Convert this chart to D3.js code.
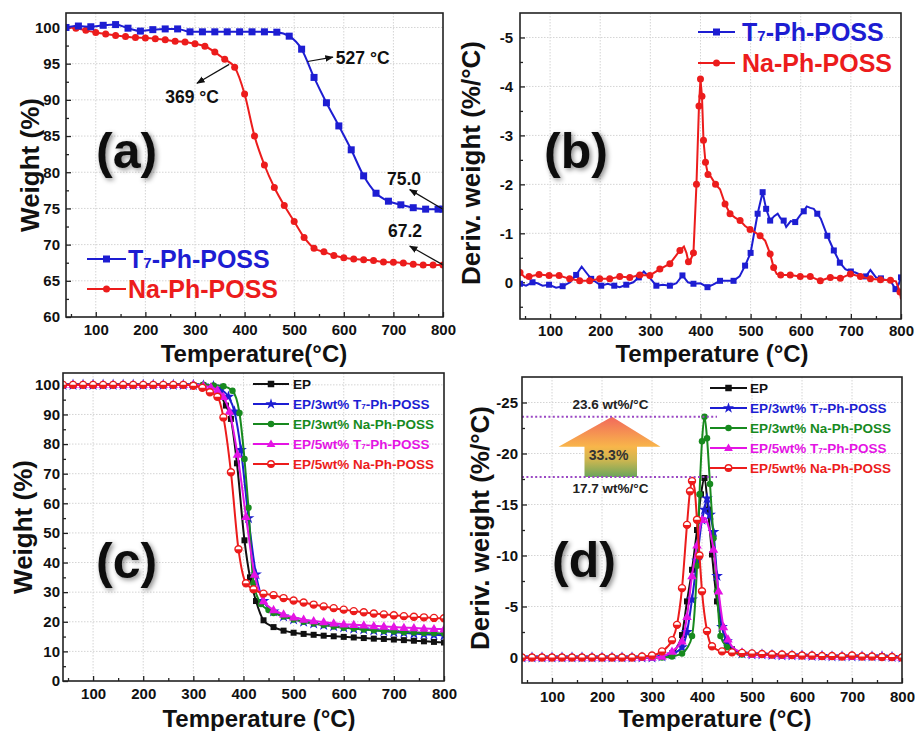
<!DOCTYPE html>
<html lang="en">
<head>
<meta charset="UTF-8">
<title>TGA and DTG curves</title>
<script src="https://cdn.jsdelivr.net/npm/d3@7"></script>
<style>
  body { margin: 0; background: #fff; }
  svg text { font-family: "Liberation Sans", Arial, Helvetica, sans-serif; font-weight: bold; }
  .grid line { stroke: #d4d4d4; stroke-width: 1; stroke-dasharray: 1.5,1.5; }
</style>
</head>
<body>
<svg id="chart" width="915" height="731"></svg>
<script>
// ---- shared ticks
const xMajor = [100, 200, 300, 400, 500, 600, 700, 800];
const xMinor = [50, 150, 250, 350, 450, 550, 650, 750];

// ---- panel (a): TGA of the two POSS
const aT7_T = [40,65,90,115,140,165,190,215,240,265,290,315,340,365,390,415,440,465,490,515,540,565,590,615,640,665,690,715,740,765,790,800];
const aT7_W = [100,100.2,100.1,100.3,100.4,99.9,99.5,99.7,99.8,99.8,99.4,99.4,99.4,99.4,99.4,99.4,99.4,99.35,98.8,97.0,93.1,89.6,86.4,83.1,79.5,77.1,76.0,75.5,75.1,74.9,74.9,74.9];
const aNa_T = [40,60,80,100,120,140,160,180,200,220,240,260,280,300,320,340,360,380,400,420,440,460,480,500,520,540,560,580,600,620,640,660,680,700,720,740,760,780,800];
const aNa_W = [100,99.9,99.6,99.3,99.1,98.9,98.75,98.6,98.55,98.45,98.3,98.1,98.0,97.75,97.4,96.6,95.6,94.5,90.8,85.0,81.0,77.9,75.4,73.2,71.0,69.5,69.0,68.5,68.2,68.0,67.9,67.8,67.6,67.55,67.45,67.3,67.2,67.2,67.2];

// ---- panel (b): DTG of the two POSS
const bT7_T = [40,52,65,75,85,98,112,125,140,152,163,172,182,192,202,215,228,239,252,266,277,287,298,312,325,339,352,364,375,386,400,414,425,439,452,466,478,489,500,514,524,531,539,547,554,560,566,571,580,589,599,606,612,619,626,633,640,653,666,678,689,700,709,720,730,739,750,760,769,779,789,795,800];
const bT7_D = [0.03,0.07,0.0,0.02,0.07,0.05,0.11,0.08,0.0,-0.15,-0.32,-0.2,-0.07,0.0,0.07,0.03,0.07,0.1,0.05,0.0,-0.1,-0.22,-0.1,0.07,0.05,0.07,0.02,-0.14,0.0,0.03,0.02,0.1,0.05,-0.03,-0.03,-0.03,-0.12,-0.34,-0.6,-1.4,-1.84,-1.5,-1.26,-1.35,-1.4,-1.3,-1.26,-1.13,-1.25,-1.23,-1.37,-1.45,-1.55,-1.52,-1.5,-1.4,-1.3,-0.95,-0.65,-0.4,-0.27,-0.22,-0.2,-0.15,-0.12,-0.25,-0.1,-0.08,-0.05,-0.03,0.14,0.05,-0.1];
const bNa_T = [40,50,58,78,98,118,139,159,179,199,219,239,259,279,299,319,339,359,367,372,376,380,386,392,397,400,403,406,410,415,421,430,439,449,459,469,479,489,499,509,519,529,539,546,552,560,579,599,619,639,659,679,699,719,739,759,779,790,798,800];
const bNa_D = [-0.2,-0.1,-0.12,-0.16,-0.14,-0.14,-0.07,-0.03,-0.03,-0.07,-0.07,-0.12,-0.1,-0.15,-0.14,-0.27,-0.38,-0.65,-0.73,-0.6,-0.42,-0.45,-0.6,-2.0,-3.6,-4.15,-3.8,-2.9,-2.45,-2.2,-2.15,-2.0,-1.9,-1.6,-1.4,-1.32,-1.26,-1.15,-1.08,-1.02,-0.95,-0.85,-0.58,-0.3,-0.17,-0.15,-0.15,-0.12,-0.12,-0.03,-0.1,-0.08,-0.17,-0.12,-0.07,-0.05,-0.04,-0.02,0.2,0.35];

// ---- panel (c): TGA of the epoxy samples
const cEP_T = [40,60,80,100,120,140,160,180,200,220,240,260,280,300,320,340,352,365,375,387,402,413,425,440,460,480,500,520,540,560,580,600,620,640,660,680,700,720,740,760,780,800];
const cEP_W = [100,100,100,100,100,100,100,100,100,100,100,100,100,99.9,99.8,99.5,97,93,88.5,73.5,47.5,35,27,20.5,18.2,17.0,16.3,15.9,15.6,15.3,15.1,14.9,14.7,14.5,14.3,14.2,14.0,13.8,13.6,13.4,13.2,13.0];
const cT3_T = [40,60,80,100,120,140,160,180,200,220,240,260,280,300,320,340,355,370,382,395,410,425,440,460,480,500,520,540,560,580,600,620,640,660,680,700,720,740,760,780,800];
const cT3_W = [100,100,100,100,100,100,100,100,100,100,100,100,100,99.9,99.8,99.5,98.5,96,91,78,55,36,27,23.5,21.8,20.8,20.0,19.4,18.9,18.5,18.1,17.7,17.4,17.1,16.8,16.5,16.3,16.0,15.8,15.6,15.4];
const cN3_T = [40,60,80,100,120,140,160,180,200,220,240,260,280,300,320,340,360,378,392,402,410,420,435,450,460,480,500,520,540,560,580,600,620,640,660,680,700,720,740,760,780,800];
const cN3_W = [100,100,100,100,100,100,100,100,100,100,100,100,100,100,100,99.8,99.5,98,90.5,75,58.5,33,26,24,23,21.8,20.8,20.0,19.4,18.9,18.4,18.0,17.7,17.4,17.1,16.9,16.7,16.5,16.4,16.2,16.1,16.0];
const cT5_T = [40,60,80,100,120,140,160,180,200,220,240,260,280,300,320,335,348,360,372,388,405,422,440,460,480,500,520,540,560,580,600,620,640,660,680,700,720,740,760,780,800];
const cT5_W = [100,100,100,100,100,100,100,100,100,100,100,100,100,100,99.7,99.2,98.2,96,91,76.5,55.5,36,27,24,22.5,21.5,20.8,20.3,19.9,19.5,19.2,19.0,18.8,18.6,18.4,18.2,18.0,17.9,17.7,17.6,17.5];
const cN5_T = [40,60,80,100,120,140,160,180,200,220,240,260,280,300,318,333,348,360,375,390,405,420,440,460,480,500,520,540,560,580,600,620,640,660,680,700,720,740,760,780,800];
const cN5_W = [100,100,100,100,100,100,100,100,100,100,100,100,100,99.7,99,97.5,96,89,70.5,44.5,33,31,29.5,29,28,27.2,26.5,25.8,25.2,24.6,24.1,23.6,23.2,22.8,22.5,22.2,21.9,21.7,21.5,21.3,21.2];

// ---- panel (d): DTG of the epoxy samples
const dEP_T = [40,60,80,100,120,140,160,180,200,220,240,260,280,300,320,340,350,360,370,380,390,398,405,412,420,430,440,450,460,480,500,520,540,560,580,600,620,640,660,680,700,720,740,760,780,800];
const dEP_D = [0,0,0,0,0,0,0,0,0,0,0,0,0,0,-0.1,-0.4,-1.0,-2.2,-5.5,-8.6,-12.5,-16,-17.6,-14.5,-10.1,-5.5,-3.0,-1.6,-0.8,-0.4,-0.3,-0.3,-0.25,-0.2,-0.2,-0.2,-0.15,-0.15,-0.1,-0.1,-0.1,-0.1,-0.1,-0.1,-0.05,0];
const dT3_T = [40,60,80,100,120,140,160,180,200,220,240,260,280,300,320,340,350,360,370,380,390,400,405,410,416,423,430,440,450,460,480,500,520,540,560,580,600,620,640,660,680,700,720,740,760,780,800];
const dT3_D = [0,0,0,0,0,0,0,0,0,0,0,0,0,0,-0.1,-0.3,-0.6,-1.0,-2.5,-5.7,-9.5,-13.5,-14.5,-15.6,-14,-12.3,-8,-3.0,-1.6,-1.0,-0.4,-0.3,-0.3,-0.25,-0.2,-0.2,-0.2,-0.15,-0.15,-0.1,-0.1,-0.1,-0.1,-0.1,-0.1,-0.05,0];
const dN3_T = [40,60,80,100,120,140,160,180,200,220,240,260,280,300,320,340,360,370,380,390,395,400,405,410,416,423,430,437,450,460,480,500,520,540,560,580,600,620,640,660,680,700,720,740,760,780,800];
const dN3_D = [0,0,0,0,0,0,0,0,0,0,0,0,0,0,0,-0.1,-0.4,-0.9,-2.1,-9,-16,-21.2,-23.6,-21.5,-17,-11.7,-6.5,-2.1,-1.0,-0.6,-0.3,-0.3,-0.3,-0.25,-0.2,-0.2,-0.2,-0.15,-0.15,-0.1,-0.1,-0.1,-0.1,-0.1,-0.1,-0.05,0];
const dT5_T = [40,60,80,100,120,140,160,180,200,220,240,260,280,300,320,340,350,360,370,380,390,400,406,412,423,433,443,452,460,480,500,520,540,560,580,600,620,640,660,680,700,720,740,760,780,800];
const dT5_D = [0,0,0,0,0,0,0,0,0,0,0,0,0,0,-0.1,-0.6,-1.0,-1.6,-4,-8,-11,-13.5,-13.7,-13,-10.6,-6.5,-3.0,-1.8,-1.1,-0.5,-0.3,-0.3,-0.25,-0.2,-0.2,-0.2,-0.15,-0.15,-0.1,-0.1,-0.1,-0.1,-0.1,-0.1,-0.05,0];
const dN5_T = [40,60,80,100,120,140,160,180,200,220,240,260,280,300,320,340,350,360,370,376,380,385,390,395,400,410,420,440,460,480,500,520,540,560,580,600,620,640,660,680,700,720,740,760,780,800];
const dN5_D = [0,0,0,0,0,0,0,0,0,0,0,0,-0.1,-0.2,-0.6,-1.7,-3.2,-6.8,-13.0,-16.3,-17.3,-16.6,-13.5,-10,-6.5,-2.6,-1.1,-0.6,-0.5,-0.45,-0.4,-0.35,-0.3,-0.3,-0.25,-0.2,-0.2,-0.15,-0.15,-0.1,-0.2,-0.1,-0.1,-0.05,-0.05,0];

const BLUE = "#1d1dd2", RED = "#ec1c1c", GREEN = "#178a1e", MAG = "#e414e4", BLK = "#111";

const svg = d3.select("#chart");
const defs = svg.append("defs");

// soft shadow behind the panel letters
const sh = defs.append("filter").attr("id", "shadow")
  .attr("x", "-30%").attr("y", "-30%").attr("width", "160%").attr("height", "160%");
sh.append("feDropShadow").attr("dx", 2).attr("dy", 2).attr("stdDeviation", 2.5)
  .attr("flood-color", "#000").attr("flood-opacity", 0.45);

defs.append("marker").attr("id", "arrow").attr("viewBox", "0 0 10 10")
  .attr("refX", 9).attr("refY", 5).attr("markerWidth", 7).attr("markerHeight", 7)
  .attr("orient", "auto")
  .append("path").attr("d", "M0,1 L10,5 L0,9 Z").attr("fill", "#111");

function makePanel(p) {
  const x = d3.scaleLinear().domain([40, 800]).range([p.left, p.right]);
  const y = d3.scaleLinear().domain(p.ydom).range(p.up ? [p.bottom, p.top] : [p.top, p.bottom]);
  const g = svg.append("g");

  defs.append("clipPath").attr("id", "clip" + p.id).append("rect")
    .attr("x", p.left).attr("y", p.top)
    .attr("width", p.right - p.left).attr("height", p.bottom - p.top);

  // dotted grid
  const grid = g.append("g").attr("class", "grid");
  grid.selectAll("line.v").data(xMajor.filter(v => v < 800)).join("line")
    .attr("x1", d => x(d)).attr("x2", d => x(d)).attr("y1", p.top).attr("y2", p.bottom);
  grid.selectAll("line.h").data(p.yMajor.filter(v => y(v) > p.top + 1 && y(v) < p.bottom - 1)).join("line")
    .attr("x1", p.left).attr("x2", p.right).attr("y1", d => y(d)).attr("y2", d => y(d));

  // axes, ticks pointing inward
  const gx = g.append("g").attr("transform", `translate(0,${p.bottom})`);
  gx.call(d3.axisBottom(x).tickValues(xMajor).tickSize(-5).tickPadding(p.xPad).tickFormat(d => d));
  gx.append("g").call(d3.axisBottom(x).tickValues(xMinor).tickSize(-3).tickFormat(""));
  const gy = g.append("g").attr("transform", `translate(${p.left},0)`);
  gy.call(d3.axisLeft(y).tickValues(p.yMajor).tickSize(-5).tickPadding(p.yPad).tickFormat(d => String(d)));
  gy.append("g").call(d3.axisLeft(y).tickValues(p.yMinor).tickSize(-3).tickFormat(""));
  [gx, gy].forEach(a => {
    a.selectAll(".domain").remove();
    a.attr("font-size", 15).attr("font-family", null);
    a.selectAll(".tick line").attr("stroke", "#222").attr("stroke-width", 1.3);
    a.selectAll(".tick text").attr("fill", "#111");
  });

  // titles
  g.append("text").attr("x", p.xtX).attr("y", p.xtY).attr("text-anchor", "middle")
    .attr("font-size", 24).attr("fill", "#111").text(p.xTitle);
  g.append("text").attr("transform", `translate(${p.ytX},${p.ytY}) rotate(-90)`)
    .attr("text-anchor", "middle").attr("dy", "0.35em")
    .attr("font-size", 26).attr("fill", "#111").text(p.yTitle);

  // panel letter
  g.append("text").attr("x", p.lx).attr("y", p.ly).attr("font-size", 50)
    .attr("fill", "#111").attr("filter", "url(#shadow)").text(p.letter);

  const plot = g.append("g").attr("clip-path", `url(#clip${p.id})`);
  return Object.assign({}, p, { x, y, g, plot });
}

function drawMark(g, cx, cy, type, color, s) {
  if (type === "square") {
    g.append("rect").attr("x", cx - s / 2).attr("y", cy - s / 2).attr("width", s).attr("height", s).attr("fill", color);
  } else if (type === "circle") {
    g.append("circle").attr("cx", cx).attr("cy", cy).attr("r", s / 2).attr("fill", color);
  } else if (type === "star") {
    g.append("path").attr("transform", `translate(${cx},${cy})`)
      .attr("d", d3.symbol(d3.symbolStar, s * s * 0.9)()).attr("fill", color);
  } else if (type === "triangle") {
    g.append("path").attr("transform", `translate(${cx},${cy + 0.5})`)
      .attr("d", d3.symbol(d3.symbolTriangle, s * s * 0.8)()).attr("fill", color);
  } else if (type === "half") {
    const r = s / 2;
    g.append("circle").attr("cx", cx).attr("cy", cy).attr("r", r)
      .attr("fill", "#fff").attr("stroke", color).attr("stroke-width", 1.4);
    g.append("path").attr("d", `M${cx - r},${cy} A${r},${r} 0 0 0 ${cx + r},${cy} Z`).attr("fill", color);
  }
}

function spaced(P, pts, gap) {
  const out = [];
  let last = null;
  pts.forEach(d => {
    const px = P.x(d[0]), py = P.y(d[1]);
    if (!last || Math.hypot(px - last[0], py - last[1]) >= gap) { out.push(d); last = [px, py]; }
  });
  return out;
}

function series(P, xs, ys, color, mark, size, curve, gap) {
  const pts = xs.map((t, i) => [t, ys[i]]);
  P.plot.append("path").datum(pts)
    .attr("d", d3.line().x(d => P.x(d[0])).y(d => P.y(d[1])).curve(curve))
    .attr("fill", "none").attr("stroke", color).attr("stroke-width", 2);
  const mg = P.plot.append("g");
  spaced(P, pts, gap).forEach(d => drawMark(mg, P.x(d[0]), P.y(d[1]), mark, color, size));
}

function richText(t, label) {
  const i = label.indexOf("T7");
  if (i < 0) { t.text(label); return; }
  t.append("tspan").text(label.slice(0, i + 1));
  t.append("tspan").attr("font-size", "0.6em").text("7");
  t.append("tspan").text(label.slice(i + 2));
}

function legend(P, items, x0, x1, xt, ys, fs, ms) {
  items.forEach((it, i) => {
    P.g.append("line").attr("x1", x0).attr("x2", x1).attr("y1", ys[i]).attr("y2", ys[i])
      .attr("stroke", it.color).attr("stroke-width", 2);
    drawMark(P.g, (x0 + x1) / 2, ys[i], it.mark, it.color, ms);
    const t = P.g.append("text").attr("x", xt).attr("y", ys[i]).attr("dy", "0.36em")
      .attr("font-size", fs).attr("fill", it.color);
    richText(t, it.label);
  });
}

function frame(P) {
  P.g.append("rect").attr("x", P.left).attr("y", P.top)
    .attr("width", P.right - P.left).attr("height", P.bottom - P.top)
    .attr("fill", "none").attr("stroke", "#222").attr("stroke-width", 1.6);
}

function arrow(P, from, to, label, lx, ly) {
  P.g.append("line").attr("x1", P.x(from[0])).attr("y1", P.y(from[1]))
    .attr("x2", P.x(to[0])).attr("y2", P.y(to[1]))
    .attr("stroke", "#111").attr("stroke-width", 1.2).attr("marker-end", "url(#arrow)");
  P.g.append("text").attr("x", P.x(lx)).attr("y", P.y(ly)).attr("font-size", 17.5)
    .attr("fill", "#111").text(label);
}

// ================= (a)
const A = makePanel({
  id: "a", left: 66, right: 443, top: 13, bottom: 317, ydom: [60, 102], up: true,
  yMajor: [60, 65, 70, 75, 80, 85, 90, 95, 100], yMinor: [62.5, 67.5, 72.5, 77.5, 82.5, 87.5, 92.5, 97.5],
  xPad: 7, yPad: 6, xTitle: "Temperature(°C)", xtX: 254, xtY: 362,
  yTitle: "Weight (%)", ytX: 30, ytY: 165, letter: "(a)", lx: 96, ly: 168
});
series(A, aNa_T, aNa_W, RED, "circle", 7, d3.curveMonotoneX, 0);
series(A, aT7_T, aT7_W, BLUE, "square", 7, d3.curveMonotoneX, 0);
arrow(A, [527, 95.3], [578, 95.9], "527 °C", 584, 94.95);
arrow(A, [369, 94.9], [304, 92.3], "369 °C", 240, 89.6);
arrow(A, [800, 74.9], [733, 77.6], "75.0", 687, 78.2);
arrow(A, [800, 67.2], [733, 69.8], "67.2", 689, 71.1);
legend(A, [
  { label: "T7-Ph-POSS", color: BLUE, mark: "square" },
  { label: "Na-Ph-POSS", color: RED, mark: "circle" }
], 87, 126, 128, [259, 289], 25, 7);
frame(A);

// ================= (b)
const B = makePanel({
  id: "b", left: 520, right: 901, top: 13, bottom: 319, ydom: [-5.5, 0.75], up: false,
  yMajor: [-5, -4, -3, -2, -1, 0], yMinor: [-4.5, -3.5, -2.5, -1.5, -0.5, 0.5],
  xPad: 6, yPad: 7, xTitle: "Temperature (°C)", xtX: 712, xtY: 362,
  yTitle: "Deriv. weight (%/°C)", ytX: 471, ytY: 163, letter: "(b)", lx: 544, ly: 168
});
series(B, bT7_T, bT7_D, BLUE, "square", 6, d3.curveLinear, 11);
series(B, bNa_T, bNa_D, RED, "circle", 7, d3.curveLinear, 9);
legend(B, [
  { label: "T7-Ph-POSS", color: BLUE, mark: "square" },
  { label: "Na-Ph-POSS", color: RED, mark: "circle" }
], 698, 735, 742, [32, 63], 25, 7);
frame(B);

// ================= (c)
const C = makePanel({
  id: "c", left: 63, right: 444, top: 373, bottom: 681, ydom: [0, 104], up: true,
  yMajor: [0, 10, 20, 30, 40, 50, 60, 70, 80, 90, 100], yMinor: [5, 15, 25, 35, 45, 55, 65, 75, 85, 95],
  xPad: 7, yPad: 3, xTitle: "Temperature (°C)", xtX: 259, xtY: 727,
  yTitle: "Weight (%)", ytX: 23, ytY: 527, letter: "(c)", lx: 96, ly: 578
});
series(C, cEP_T, cEP_W, BLK, "square", 6, d3.curveMonotoneX, 0);
series(C, cT3_T, cT3_W, BLUE, "star", 7, d3.curveMonotoneX, 0);
series(C, cN3_T, cN3_W, GREEN, "circle", 6.5, d3.curveMonotoneX, 0);
series(C, cT5_T, cT5_W, MAG, "triangle", 7, d3.curveMonotoneX, 0);
series(C, cN5_T, cN5_W, RED, "half", 7, d3.curveMonotoneX, 0);
const legItems = [
  { label: "EP", color: BLK, mark: "square" },
  { label: "EP/3wt% T7-Ph-POSS", color: BLUE, mark: "star" },
  { label: "EP/3wt% Na-Ph-POSS", color: GREEN, mark: "circle" },
  { label: "EP/5wt% T7-Ph-POSS", color: MAG, mark: "triangle" },
  { label: "EP/5wt% Na-Ph-POSS", color: RED, mark: "half" }
];
legend(C, legItems, 253, 289, 293, [384, 404, 424, 444, 464], 13.5, 6.5);
frame(C);

// ================= (d)
const D = makePanel({
  id: "d", left: 522, right: 902, top: 377, bottom: 683, ydom: [-27.5, 2.5], up: false,
  yMajor: [-25, -20, -15, -10, -5, 0], yMinor: [-22.5, -17.5, -12.5, -7.5, -2.5],
  xPad: 8.5, yPad: 4, xTitle: "Temperature (°C)", xtX: 715, xtY: 727,
  yTitle: "Deriv. weight (%/°C)", ytX: 480, ytY: 528, letter: "(d)", lx: 552, ly: 577
});

// growth arrow between the two peak levels
const grad = defs.append("linearGradient").attr("id", "upArrow")
  .attr("gradientUnits", "userSpaceOnUse")
  .attr("x1", 0).attr("x2", 0).attr("y1", D.y(-23.6)).attr("y2", D.y(-17.7));
[[0, "#f2685c"], [0.5, "#f8b64a"], [0.72, "#cdb650"], [1, "#6aa55c"]].forEach(s =>
  grad.append("stop").attr("offset", s[0]).attr("stop-color", s[1]));
const arrowPts = [[220, -23.6], [317, -20.65], [270, -20.65], [270, -17.7], [165, -17.7], [165, -20.65], [113, -20.65]];
D.g.append("path")
  .attr("d", "M" + arrowPts.map(p => `${D.x(p[0])},${D.y(p[1])}`).join("L") + "Z")
  .attr("fill", "url(#upArrow)");
[-23.6, -17.7].forEach(v => D.g.append("line")
  .attr("x1", D.x(40)).attr("x2", D.x(430)).attr("y1", D.y(v)).attr("y2", D.y(v))
  .attr("stroke", "#9a48c4").attr("stroke-width", 2).attr("stroke-dasharray", "2,2.4"));
D.g.append("text").attr("x", D.x(217)).attr("y", D.y(-24.4)).attr("text-anchor", "middle")
  .attr("font-size", 13.5).attr("fill", "#222").text("23.6 wt%/°C");
D.g.append("text").attr("x", D.x(217)).attr("y", D.y(-16.15)).attr("text-anchor", "middle")
  .attr("font-size", 13.5).attr("fill", "#222").text("17.7 wt%/°C");
D.g.append("text").attr("x", D.x(213)).attr("y", D.y(-19.4)).attr("text-anchor", "middle")
  .attr("font-size", 14).attr("fill", "#333").text("33.3%");

series(D, dEP_T, dEP_D, BLK, "square", 6, d3.curveMonotoneX, 9);
series(D, dT3_T, dT3_D, BLUE, "star", 7, d3.curveMonotoneX, 9);
series(D, dN3_T, dN3_D, GREEN, "circle", 6.5, d3.curveMonotoneX, 9);
series(D, dT5_T, dT5_D, MAG, "triangle", 7, d3.curveMonotoneX, 9);
series(D, dN5_T, dN5_D, RED, "half", 7, d3.curveMonotoneX, 9);
legend(D, legItems, 710, 747, 750, [388, 408, 428, 448, 468], 13.5, 6.5);
frame(D);
</script>
</body>
</html>
